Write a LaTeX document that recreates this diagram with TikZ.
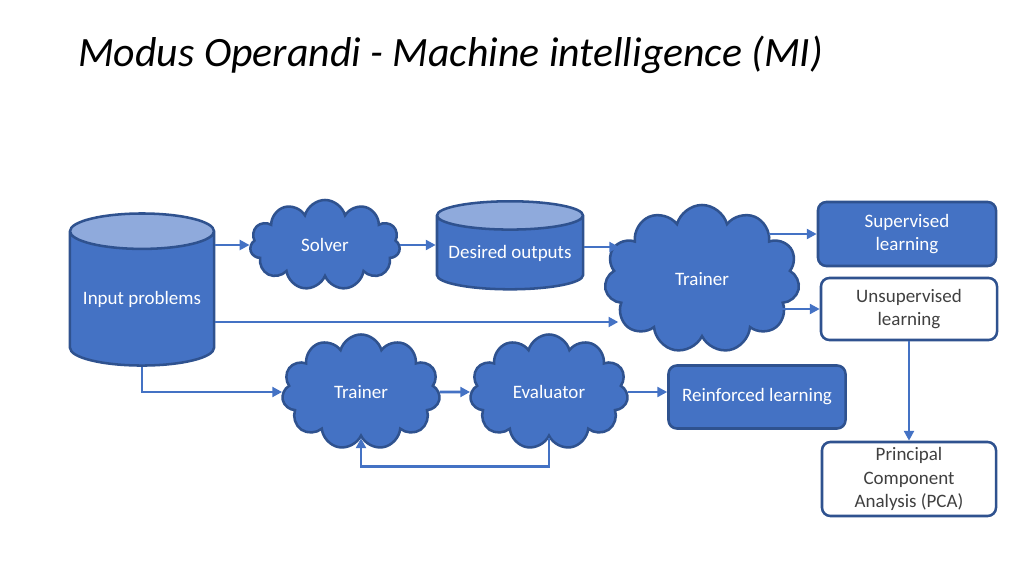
\documentclass[tikz,border=0pt]{standalone}
\usepackage{fontspec}
\setmainfont{Carlito}
\usetikzlibrary{shapes.geometric,shapes.symbols,arrows.meta}
\definecolor{slideblue}{HTML}{4472C4}
\definecolor{darkblue}{HTML}{2F528F}
\definecolor{lightblue}{HTML}{8FAADC}
\definecolor{textgray}{HTML}{404040}

\tikzset{
  body/.style={font=\fontsize{13.5}{16.5}\selectfont, align=center, inner sep=0pt},
  micloud/.style={body, cloud, cloud puffs=11, cloud ignores aspect, fill=slideblue, draw=darkblue, line width=1.8pt, text=white},
  store/.style={body, cylinder, shape border rotate=90, draw=darkblue, line width=1.8pt, text=white,
    cylinder uses custom fill, cylinder body fill=slideblue, cylinder end fill=lightblue},
  fullbox/.style={body, rectangle, rounded corners=6pt, fill=slideblue, draw=darkblue, line width=1.8pt, text=white},
  openbox/.style={body, rectangle, rounded corners=6pt, fill=white, draw=darkblue, line width=1.8pt, text=textgray},
  arr/.style={draw=slideblue, line width=2pt, -{Triangle[length=7pt,width=7pt]}}
}

\begin{document}
\begin{tikzpicture}[x=0.025cm, y=-0.025cm]
  \useasboundingbox (0,0) rectangle (1024,576);

  % title
  \node [anchor=base west, inner sep=0pt, font=\fontsize{29.7}{34}\selectfont\itshape] (title) at (78,67)
    {Modus Operandi - Machine intelligence (MI)};

  % stores and clouds
  \node [store, aspect=0.3, minimum width=3.6cm, minimum height=3.8cm] (input) at (142,299) {Input problems};
  \node [micloud, minimum width=3.75cm, minimum height=2.25cm] (solver) at (325,245) {Solver};
  \node [store, aspect=0.23, minimum width=3.65cm, minimum height=2.2cm] (desired) at (510,253) {Desired outputs};
  \node [micloud, minimum width=4.875cm, minimum height=3.7cm] (trainer) at (702,279) {Trainer};
  \node [micloud, minimum width=3.95cm, minimum height=2.875cm] (trainerb) at (361,392) {Trainer};
  \node [micloud, minimum width=3.95cm, minimum height=2.875cm] (evaluator) at (549,392) {Evaluator};

  % outcomes
  \node [fullbox, minimum width=4.45cm, minimum height=1.6cm] (super) at (907,234) {Supervised\\learning};
  \node [openbox, minimum width=4.4cm, minimum height=1.55cm] (unsuper) at (909,309) {Unsupervised\\learning};
  \node [openbox, minimum width=4.35cm, minimum height=1.85cm] (pca) at (909,479) {Principal\\Component\\Analysis (PCA)};
  \node [fullbox, minimum width=4.425cm, minimum height=1.575cm] (reinf) at (757,397) {Reinforced learning};

  % connectors
  \draw [arr] (input.east |- solver.west) -- (solver.west);
  \draw [arr] (solver.east) -- (solver.east -| desired.west);
  \draw [arr] ([yshift=0.15cm]desired.east) -- ([yshift=0.15cm,xshift=0.35cm]desired.east -| trainer.west);
  \draw [arr] ([yshift=-0.575cm]input.east) -- ([yshift=-0.575cm,xshift=0.33cm]input.east -| trainer.west);
  \draw [arr] ([xshift=-0.75cm]trainer.east |- super.west) -- (super.west);
  \draw [arr] ([xshift=-0.55cm]trainer.east |- unsuper.west) -- (unsuper.west);
  \draw [arr] (unsuper.south) -- (pca.north);
  \draw [arr] (input.south) |- (trainerb.west);
  \draw [arr] (trainerb.east) -- (evaluator.west);
  \draw [arr] (evaluator.east) -- (evaluator.east -| reinf.west);
  \draw [arr] (evaluator.south) -- ++(0,28) -| (trainerb.south);
\end{tikzpicture}
\end{document}
